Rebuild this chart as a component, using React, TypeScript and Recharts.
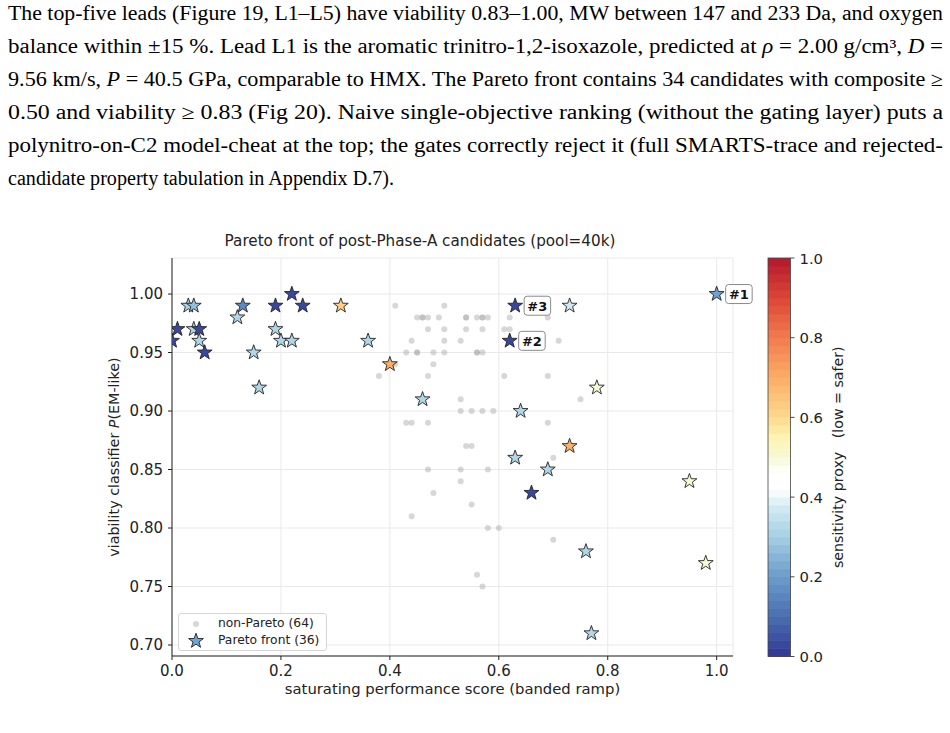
import { ScatterChart, Scatter, XAxis, YAxis, CartesianGrid, Legend } from "recharts";

// Pareto-front candidates (performance score, viability, sensitivity proxy, lead tag)
const paretoScore = [
  0.0, 0.01, 0.03, 0.04, 0.04, 0.05, 0.05, 0.06, 0.12, 0.13, 0.15, 0.16,
  0.19, 0.19, 0.2, 0.22, 0.22, 0.24, 0.31, 0.36, 0.4, 0.46, 0.62, 0.63,
  0.73, 0.64, 0.78, 0.73, 0.63, 0.69, 0.66, 1.0, 0.95, 0.76, 0.98, 0.77,
];
const paretoViability = [
  0.96, 0.97, 0.99, 0.99, 0.97, 0.97, 0.96, 0.95, 0.98, 0.99, 0.95, 0.92,
  0.99, 0.97, 0.96, 1.0, 0.96, 0.99, 0.99, 0.96, 0.94, 0.91, 0.96, 0.99,
  0.99, 0.9, 0.92, 0.87, 0.86, 0.85, 0.83, 1.0, 0.84, 0.78, 0.77, 0.71,
];
const paretoSensitivity = [
  0.03, 0.03, 0.31, 0.27, 0.32, 0.03, 0.32, 0.03, 0.32, 0.16, 0.32, 0.32,
  0.03, 0.32, 0.32, 0.03, 0.32, 0.03, 0.62, 0.32, 0.7, 0.32, 0.03, 0.03,
  0.37, 0.32, 0.5, 0.69, 0.32, 0.32, 0.03, 0.21, 0.5, 0.32, 0.5, 0.32,
];
const paretoTag = [
  "", "", "", "", "", "", "", "", "", "", "", "",
  "", "", "", "", "", "", "", "", "", "", "#2", "#3",
  "", "", "", "", "", "", "", "#1", "", "", "", "",
];

// remaining (non-Pareto) candidates
const otherScore = [
  0.41, 0.5,
  0.45, 0.46, 0.46, 0.47, 0.49, 0.54, 0.54, 0.56, 0.57, 0.57, 0.58, 0.62, 0.69,
  0.47, 0.5, 0.54, 0.57, 0.61, 0.62,
  0.44, 0.5, 0.53, 0.71,
  0.43, 0.45, 0.45, 0.48, 0.5, 0.56, 0.56, 0.57,
  0.41, 0.48,
  0.38, 0.47, 0.61, 0.69,
  0.53, 0.75,
  0.53, 0.55, 0.57, 0.59,
  0.43, 0.44, 0.47, 0.69,
  0.54, 0.55,
  0.7,
  0.47, 0.53, 0.58,
  0.53, 0.48, 0.55, 0.44,
  0.58, 0.6,
  0.7, 0.56, 0.57,
];
const otherViability = [
  0.99, 0.99,
  0.98, 0.98, 0.98, 0.98, 0.98, 0.98, 0.98, 0.98, 0.98, 0.98, 0.98, 0.98, 0.98,
  0.97, 0.97, 0.97, 0.97, 0.97, 0.97,
  0.96, 0.96, 0.96, 0.96,
  0.95, 0.95, 0.95, 0.95, 0.95, 0.95, 0.95, 0.95,
  0.94, 0.94,
  0.93, 0.93, 0.93, 0.93,
  0.91, 0.91,
  0.9, 0.9, 0.9, 0.9,
  0.89, 0.89, 0.89, 0.89,
  0.87, 0.87,
  0.86,
  0.85, 0.85, 0.85,
  0.84, 0.83, 0.82, 0.81,
  0.8, 0.8,
  0.79, 0.76, 0.75,
];

const xTicks = [0, 0.2, 0.4, 0.6, 0.8, 1.0];
const yTicks = [0.7, 0.75, 0.8, 0.85, 0.9, 0.95, 1.0];
const cbarTicks = [0, 0.2, 0.4, 0.6, 0.8, 1.0];

const FONT = "DejaVu Sans";
const SERIF = "Liberation Serif";

// diverging map, blue (safe) -> white -> red
const cmapStops: [number, number[]][] = [
  [0.0, [49, 54, 149]],
  [0.1, [74, 111, 176]],
  [0.2, [107, 155, 203]],
  [0.3, [165, 207, 227]],
  [0.38, [214, 236, 244]],
  [0.42, [255, 255, 255]],
  [0.46, [255, 255, 255]],
  [0.5, [246, 249, 214]],
  [0.55, [254, 243, 177]],
  [0.6, [253, 217, 142]],
  [0.7, [251, 173, 102]],
  [0.8, [242, 123, 79]],
  [0.9, [220, 70, 55]],
  [1.0, [179, 24, 44]],
];

function cmap(v: number) {
  const t = Math.max(0, Math.min(1, v));
  for (let i = 1; i < cmapStops.length; i++) {
    const [t1, c1] = cmapStops[i];
    const [t0, c0] = cmapStops[i - 1];
    if (t <= t1) {
      const f = (t - t0) / (t1 - t0 || 1);
      const c = c0.map((a, k) => Math.round(a + (c1[k] - a) * f));
      return `rgb(${c[0]},${c[1]},${c[2]})`;
    }
  }
  return "rgb(179,24,44)";
}

const pareto = paretoScore.map((x, i) => ({
  x,
  y: paretoViability[i],
  s: paretoSensitivity[i],
  tag: paretoTag[i],
}));
const tagged = pareto.filter((p) => p.tag);
const others = otherScore.map((x, i) => ({ x, y: otherViability[i] }));

const otherName = `non-Pareto (${others.length})`;
const paretoName = `Pareto front (${pareto.length})`;

function starPath(cx: number, cy: number, R: number) {
  const r = R * 0.4;
  let d = "";
  for (let i = 0; i < 10; i++) {
    const rad = i % 2 === 0 ? R : r;
    const a = -Math.PI / 2 + (i * Math.PI) / 5;
    d += (i ? "L" : "M") + (cx + rad * Math.cos(a)).toFixed(2) + "," + (cy + rad * Math.sin(a)).toFixed(2);
  }
  return d + "Z";
}

const StarMark = (props: any) => {
  const { cx, cy, payload } = props;
  return <path d={starPath(cx, cy, 7.8)} fill={cmap(payload.s)} stroke="#222" strokeWidth={0.9} />;
};

const Dot = (props: any) => <circle cx={props.cx} cy={props.cy} r={3} fill="#a6a6a6" fillOpacity={0.45} />;

const TagBox = (props: any) => {
  const { cx, cy, payload } = props;
  return (
    <g>
      <rect x={cx + 9} y={cy - 9.5} width={26.5} height={19} rx={3} fill="#fff" stroke="#8a8a8a" strokeWidth={1} />
      <text x={cx + 22.2} y={cy + 0.5} textAnchor="middle" dominantBaseline="central" fontFamily={FONT} fontWeight="bold" fontSize={13} fill="#111">
        {payload.tag}
      </text>
    </g>
  );
};

const LegendBox = (props: any) => {
  const order = [otherName, paretoName];
  const items = (props.payload || [])
    .filter((p: any) => order.includes(p.value))
    .sort((a: any, b: any) => order.indexOf(a.value) - order.indexOf(b.value));
  return (
    <div style={{ width: 147, height: 36, border: "1px solid #d6d6d6", borderRadius: 3, background: "rgba(255,255,255,0.85)", fontFamily: FONT, fontSize: 12.3, color: "#222" }}>
      {items.map((it: any, i: number) => (
        <div key={it.value} style={{ position: "relative", height: 17, marginTop: i === 0 ? 1 : 0 }}>
          <svg width={30} height={17} style={{ position: "absolute", left: 6, top: 0 }}>
            {it.value === otherName ? (
              <circle cx={11} cy={9} r={3} fill="#a6a6a6" fillOpacity={0.45} />
            ) : (
              <path d={starPath(11, 9, 7.8)} fill="#6ea4d4" stroke="#222" strokeWidth={0.9} />
            )}
          </svg>
          <span style={{ position: "absolute", left: 39, top: 1, whiteSpace: "nowrap" }}>{it.value}</span>
        </div>
      ))}
    </div>
  );
};

const YLabel = (props: any) => {
  const vb = props.viewBox;
  const x = vb.x + 2;
  const y = vb.y + vb.height / 2;
  return (
    <text x={x} y={y} transform={`rotate(-90 ${x} ${y})`} textAnchor="middle" dominantBaseline="central" fontFamily={FONT} fontSize={14.3} fill="#222">
      <tspan>viability classifier  </tspan>
      <tspan fontStyle="italic">P</tspan>
      <tspan>(EM-like)</tspan>
    </text>
  );
};

const XLabel = (props: any) => {
  const vb = props.viewBox;
  return (
    <text x={vb.x + vb.width / 2} y={vb.y + 32} textAnchor="middle" dominantBaseline="central" fontFamily={FONT} fontSize={14.8} fill="#222">
      saturating performance score (banded ramp)
    </text>
  );
};

function Colorbar() {
  const top = 258, bottom = 656.5, left = 768, w = 22.5;
  const h = bottom - top;
  const bands = 50;
  return (
    <svg width={950} height={733} style={{ position: "absolute", left: 0, top: 0, pointerEvents: "none" }}>
      {Array.from({ length: bands }, (_, i) => {
        const v = (i + 0.5) / bands;
        const y0 = bottom - ((i + 1) / bands) * h;
        return <rect key={i} x={left} y={y0} width={w} height={h / bands + 0.4} fill={cmap(v)} />;
      })}
      <rect x={left} y={top} width={w} height={h} fill="none" stroke="#444" strokeWidth={0.8} />
      {cbarTicks.map((t) => {
        const y = bottom - t * h;
        return (
          <g key={t}>
            <line x1={left + w} x2={left + w + 4} y1={y} y2={y} stroke="#222" strokeWidth={0.8} />
            <text x={left + w + 9} y={y} dominantBaseline="central" fontFamily={FONT} fontSize={14.8} fill="#222">
              {t.toFixed(1)}
            </text>
          </g>
        );
      })}
      <text x={838} y={(top + bottom) / 2} transform={`rotate(-90 838 ${(top + bottom) / 2})`} textAnchor="middle" dominantBaseline="central" fontFamily={FONT} fontSize={14.2} fill="#222" style={{ whiteSpace: "pre" }}>
        {"sensitivity proxy   (low = safer)"}
      </text>
    </svg>
  );
}

function Paragraph() {
  const base = [20, 53, 86, 119, 152, 185];
  const full = 935;
  const common = { x: 8, fontFamily: SERIF, fontSize: 20, fill: "#000", lengthAdjust: "spacingAndGlyphs" as const };
  return (
    <svg width={950} height={200} style={{ position: "absolute", left: 0, top: 0 }}>
      <text {...common} y={base[0]} textLength={full}>
        The top-five leads (Figure 19, L1–L5) have viability 0.83–1.00, MW between 147 and 233 Da, and oxygen
      </text>
      <text {...common} y={base[1]} textLength={full}>
        <tspan>balance within ±15 %. Lead L1 is the aromatic trinitro-1,2-isoxazole, predicted at </tspan>
        <tspan fontStyle="italic">ρ</tspan>
        <tspan> = 2.00 g/cm³, </tspan>
        <tspan fontStyle="italic">D</tspan>
        <tspan> =</tspan>
      </text>
      <text {...common} y={base[2]} textLength={full}>
        <tspan>9.56 km/s, </tspan>
        <tspan fontStyle="italic">P</tspan>
        <tspan> = 40.5 GPa, comparable to HMX. The Pareto front contains 34 candidates with composite ≥</tspan>
      </text>
      <text {...common} y={base[3]} textLength={full}>
        0.50 and viability ≥ 0.83 (Fig 20). Naive single-objective ranking (without the gating layer) puts a
      </text>
      <text {...common} y={base[4]} textLength={full}>
        polynitro-on-C2 model-cheat at the top; the gates correctly reject it (full SMARTS-trace and rejected-
      </text>
      <text {...common} y={base[5]} textLength={386}>
        candidate property tabulation in Appendix D.7).
      </text>
    </svg>
  );
}

export default function App() {
  const xDomain: [number, number] = [0, 1.03];
  const yDomain: [number, number] = [0.6906, 1.0308];
  const tick = { fill: "#222", fontSize: 15, fontFamily: FONT };
  return (
    <div style={{ position: "absolute", left: 0, top: 0, width: 950, height: 733, overflow: "hidden", background: "#fff" }}>
      <Paragraph />
      <div style={{ position: "absolute", left: 0, top: 0 }}>
        <ScatterChart width={950} height={733} margin={{ top: 258, right: 217, bottom: 32, left: 112 }}>
          <CartesianGrid stroke="#e9e9e9" strokeWidth={1} />
          <XAxis
            type="number"
            dataKey="x"
            domain={xDomain}
            ticks={xTicks}
            allowDataOverflow
            tickFormatter={(v: number) => v.toFixed(1)}
            tick={tick}
            tickSize={4}
            tickMargin={5}
            height={45}
            axisLine={{ stroke: "#222" }}
            tickLine={{ stroke: "#222" }}
            label={{ content: XLabel }}
          />
          <XAxis xAxisId="tag" type="number" dataKey="x" domain={xDomain} hide />
          <YAxis
            type="number"
            dataKey="y"
            domain={yDomain}
            ticks={yTicks}
            tickFormatter={(v: number) => v.toFixed(2)}
            tick={tick}
            tickSize={4}
            tickMargin={5}
            width={60}
            axisLine={{ stroke: "#222" }}
            tickLine={{ stroke: "#222" }}
            label={{ content: YLabel }}
          />
          <Legend
            layout="horizontal"
            verticalAlign="middle"
            align="center"
            content={LegendBox}
            wrapperStyle={{ left: 178, top: 613, width: 149, height: 38 }}
          />
          <Scatter name={otherName} data={others} shape={Dot} isAnimationActive={false} />
          <Scatter name={paretoName} data={pareto} shape={StarMark} isAnimationActive={false} />
          <Scatter xAxisId="tag" data={tagged} shape={TagBox} legendType="none" isAnimationActive={false} />
        </ScatterChart>
      </div>
      <Colorbar />
      <div style={{ position: "absolute", left: 0, top: 231, width: 840, textAlign: "center", fontFamily: FONT, fontSize: 15.2, color: "#222", lineHeight: "20px" }}>
        Pareto front of post-Phase-A candidates (pool=40k)
      </div>
    </div>
  );
}
